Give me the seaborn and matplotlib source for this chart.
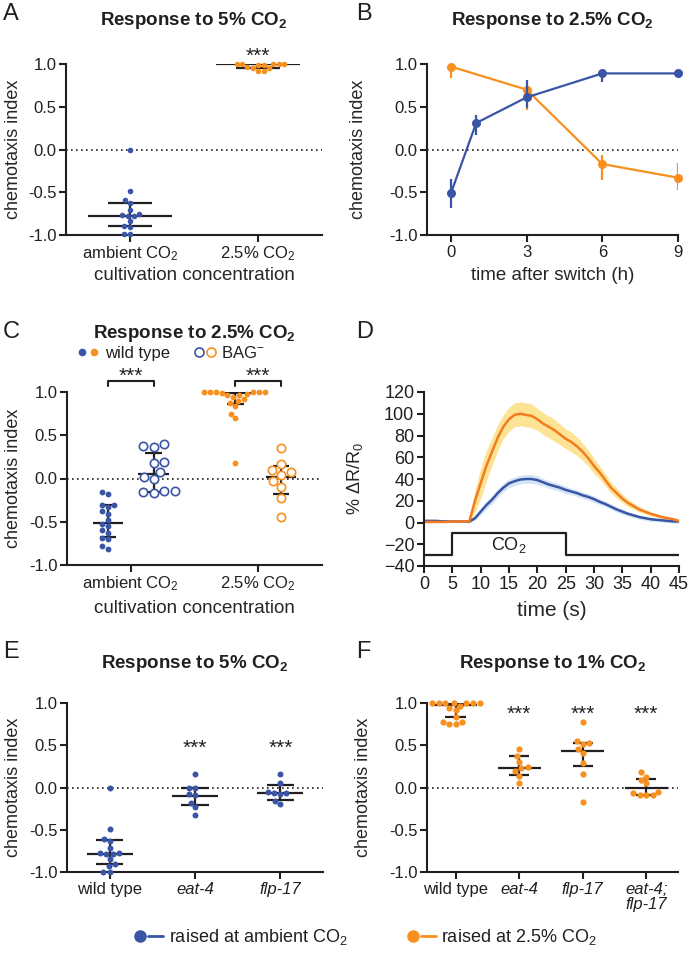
import numpy as np
import pandas as pd
import seaborn as sns
import matplotlib.pyplot as plt
from matplotlib.lines import Line2D
from matplotlib.legend_handler import HandlerTuple

sns.set_style('ticks')
plt.rcParams['font.family'] = ['Liberation Sans', 'DejaVu Sans']
plt.rcParams['mathtext.fontset'] = 'custom'
plt.rcParams['mathtext.rm'] = 'Liberation Sans'
plt.rcParams['mathtext.it'] = 'Liberation Sans:italic'
plt.rcParams['mathtext.bf'] = 'Liberation Sans:bold'
plt.rcParams['text.color'] = '#231f20'

BLUE = '#3a55a5'
ORANGE = '#f7901e'
DARK = '#231f20'

# ---- panel A: response to 5% CO2 (chemotaxis index per assay)
a_cats = ['ambient CO$_2$', '2.5% CO$_2$']
a_ambient = [0.0, -0.48, -0.59, -0.62, -0.71, -0.76, -0.77, -0.78, -0.78, -0.84, -0.90, -0.91, -0.99, -0.99]
a_high = [1.0, 1.0, 1.0, 1.0, 0.99, 0.99, 0.96, 0.95, 0.95, 0.92, 0.92, 1.0]
a_med = [-0.78, 1.0]
a_q1 = [-0.90, 0.95]
a_q3 = [-0.62, 1.0]

# ---- panel B: time course after switch
b_time_amb = [0, 1, 3, 6, 9]
b_amb_mean = [-0.51, 0.31, 0.61, 0.89, 0.89]
b_amb_lo = [-0.69, 0.17, 0.49, 0.79, 0.86]
b_amb_hi = [-0.34, 0.40, 0.81, 0.93, 0.91]
b_time_high = [0, 3, 6, 9]
b_high_mean = [0.97, 0.70, -0.17, -0.33]
b_high_lo = [0.84, 0.46, -0.36, -0.47]
b_high_hi = [1.0, 0.75, -0.06, -0.16]

# ---- panel C: wild type vs BAG-ablated
c_wt_amb = [-0.16, -0.18, -0.31, -0.31, -0.33, -0.38, -0.41, -0.48, -0.53, -0.55, -0.60, -0.63, -0.69, -0.70, -0.78, -0.81]
c_bag_amb = [0.40, 0.37, 0.36, 0.19, 0.18, 0.08, 0.02, -0.01, -0.15, -0.15, -0.16, -0.17]
c_wt_high = [1.0, 1.0, 1.0, 1.0, 1.0, 1.0, 0.99, 0.98, 0.97, 0.96, 0.94, 0.92, 0.90, 0.87, 0.84,
             0.75, 0.70, 0.18]
c_bag_high = [0.35, 0.17, 0.10, 0.08, 0.04, -0.03, -0.10, -0.23, -0.44]
c_med = [-0.51, 0.05, 0.99, 0.02]
c_q1 = [-0.68, -0.16, 0.86, -0.18]
c_q3 = [-0.31, 0.30, 1.0, 0.14]

# ---- panel D: BAG calcium imaging
d_time = [0, 1, 2, 3, 4, 5, 6, 7, 8, 9, 10, 11, 12, 13, 14, 15, 16, 17, 18, 19, 20, 21, 22,
          23, 24, 25, 26, 27, 28, 29, 30, 31, 32, 33, 34, 35, 36, 37, 38, 39, 40, 41, 42, 43, 44, 45]
d_high_mean = [0.5, 0.5, 0.5, 0.5, 0.5, 1, 1, 1, 1, 20, 36, 52, 65, 78, 88, 95, 99, 100, 99, 98, 95, 91,
               88, 85, 81, 77, 74, 70, 65, 59, 52, 46, 39, 32, 27, 22, 18, 15, 12, 10, 8, 6.5, 5, 4, 3, 1.5]
d_high_sem = [0.5, 0.5, 0.5, 0.5, 0.5, 0.5, 0.5, 0.5, 2, 10, 14, 14, 13, 12, 11, 11, 11, 11, 11, 11, 10, 10,
              10, 10, 9.5, 9, 9, 8.5, 8, 7.5, 7, 6, 5.5, 5, 4.5, 4, 3.5, 3, 2.5, 2, 2, 1.5, 1.5, 1, 1, 1]
d_amb_mean = [1.5, 1.5, 1.5, 1.2, 1, 1, 1, 1, 0.8, 4, 10, 16, 21, 27, 32, 36, 38, 39.5, 40, 40, 39, 37,
              35, 33.5, 32, 30, 28.5, 27, 25, 23.5, 21.5, 19, 17, 14.5, 12, 10, 8, 6.5, 5, 4, 3, 2.5, 2, 1.5, 1, 1]
d_amb_sem = [0.5, 0.5, 0.5, 0.5, 0.5, 0.5, 0.5, 0.5, 1, 2, 3, 3.5, 4, 4, 4, 4, 4, 4, 4, 4, 4, 3.5,
             3.5, 3.5, 3.5, 3.5, 3, 3, 3, 3, 3, 2.5, 2.5, 2.5, 2.5, 2.5, 2, 2, 2, 2, 2, 1.5, 1.5, 1.5, 1.5, 1.5]
stim_time = [0, 5, 25, 45]
stim_level = [-30, -10, -30, -30]

# ---- panel E: response to 5% CO2, mutants raised at ambient
e_cats = ['wild type', 'eat-4', 'flp-17']
e_wt = [0.0, -0.49, -0.61, -0.63, -0.72, -0.77, -0.78, -0.79, -0.79, -0.85, -0.91, -0.93, -1.0, -1.0]
e_eat4 = [0.16, 0.0, 0.0, -0.08, -0.09, -0.18, -0.23, -0.33]
e_flp17 = [0.16, 0.05, -0.05, -0.06, -0.06, -0.08, -0.16, -0.20]
e_med = [-0.79, -0.10, -0.065]
e_q1 = [-0.90, -0.21, -0.15]
e_q3 = [-0.62, 0.0, 0.03]

# ---- panel F: response to 1% CO2, mutants raised at 2.5%
f_cats = ['wild type', 'eat-4', 'flp-17', 'eat-4;\nflp-17']
f_wt = [1.0, 1.0, 1.0, 1.0, 1.0, 1.0, 1.0, 0.97, 0.94, 0.92, 0.83, 0.78, 0.77, 0.75, 0.75]
f_eat4 = [0.46, 0.37, 0.30, 0.24, 0.23, 0.20, 0.14, 0.05]
f_flp17 = [0.78, 0.55, 0.53, 0.52, 0.46, 0.41, 0.29, 0.16, -0.17]
f_double = [0.18, 0.13, 0.09, 0.05, -0.05, -0.07, -0.09, -0.09, -0.09]
f_med = [0.98, 0.235, 0.43, 0.0]
f_q1 = [0.83, 0.15, 0.26, -0.085]
f_q3 = [1.0, 0.37, 0.53, 0.10]


def swarm(ax, pos, vals, color, size=4.0, hollow=False):
    sns.swarmplot(x=np.full(len(vals), pos, dtype=float), y=vals, native_scale=True,
                  color=color, size=size, linewidth=0, ax=ax, zorder=3, clip_on=False)
    pts = ax.collections[-1]
    if hollow:
        pts.set_facecolor('white')
        pts.set_edgecolor(color)
        pts.set_linewidth(1.2)


def med_iqr(ax, pos, med, lo, hi, mw, ww):
    kw = dict(color=DARK, lw=1.6, zorder=2)
    ax.hlines(med, pos - mw, pos + mw, **kw)
    ax.hlines([lo, hi], pos - ww, pos + ww, **kw)
    ax.vlines(pos, lo, hi, **kw)


def style(ax, ylim=(-1, 1), yticks=(-1.0, -0.5, 0.0, 0.5, 1.0), zero=True, size=12):
    sns.despine(ax=ax)
    for s in ['left', 'bottom']:
        ax.spines[s].set_linewidth(1.5)
        ax.spines[s].set_color(DARK)
    ax.set_ylim(*ylim)
    ax.set_yticks(yticks)
    if zero:
        ax.set_yticklabels([f'{v:.1f}' for v in yticks])
        ax.axhline(0, color=DARK, lw=1.2, ls=(0, (1, 2)), zorder=1)
    ax.tick_params(length=5, width=1.5, labelsize=size, pad=2, color=DARK, labelcolor=DARK)
    ax.set_ylabel('chemotaxis index', fontsize=13)


def title(ax, text, y):
    ax.text(0.5, y, text, transform=ax.transAxes, ha='center', va='baseline',
            fontsize=13.5, fontweight='bold')


def stars(ax, x, y):
    ax.text(x, y, '***', ha='center', va='baseline', fontsize=15)


fig = plt.figure(figsize=(6.91, 9.6), dpi=100)
W, H = 691, 960


def axes_px(l, r, top, bottom):
    return fig.add_axes([l / W, (H - bottom) / H, (r - l) / W, (bottom - top) / H])


# ---------------- A
ax = axes_px(66, 322, 64, 235)
swarm(ax, 0, a_ambient, BLUE)
swarm(ax, 1, a_high, ORANGE)
for i in range(2):
    med_iqr(ax, i, a_med[i], a_q1[i], a_q3[i], 0.33, 0.17)
style(ax)
ax.set_xlim(-0.5, 1.5)
ax.set_xticks([0, 1])
ax.set_xticklabels(a_cats)
stars(ax, 1, 1.03)
ax.set_xlabel('cultivation concentration', fontsize=13.5)
ax.xaxis.set_label_coords(0.5, -0.19)
ax.yaxis.set_label_coords(-0.17, 0.5)
title(ax, 'Response to 5% CO$_\\mathbf{2}$', 1.228)

# ---------------- B
ax = axes_px(427, 678, 64, 235)
sns.lineplot(x=b_time_high, y=b_high_mean, color=ORANGE, marker='o', markersize=6.5,
             markeredgewidth=0, lw=1.6, ax=ax, errorbar=None, clip_on=False)
ax.vlines(b_time_high, b_high_lo, b_high_hi, color=ORANGE, lw=1.6)
sns.lineplot(x=b_time_amb, y=b_amb_mean, color=BLUE, marker='o', markersize=6.5,
             markeredgewidth=0, lw=1.6, ax=ax, errorbar=None, clip_on=False)
ax.vlines(b_time_amb, b_amb_lo, b_amb_hi, color=BLUE, lw=1.6)
style(ax)
ax.set_xlim(-0.95, 9)
ax.set_xticks([0, 3, 6, 9])
ax.set_xlabel('time after switch (h)', fontsize=13.5)
ax.xaxis.set_label_coords(0.5, -0.19)
ax.yaxis.set_label_coords(-0.24, 0.5)
title(ax, 'Response to 2.5% CO$_\\mathbf{2}$', 1.228)

# ---------------- C
ax = axes_px(67, 322, 392, 565)
off = 0.18
swarm(ax, -off, c_wt_amb, BLUE, size=4.2)
swarm(ax, off, c_bag_amb, BLUE, size=6.0, hollow=True)
swarm(ax, 1 - off, c_wt_high, ORANGE, size=4.2)
swarm(ax, 1 + off, c_bag_high, ORANGE, size=6.0, hollow=True)
for i, pos in enumerate([-off, off, 1 - off, 1 + off]):
    med_iqr(ax, pos, c_med[i], c_q1[i], c_q3[i], 0.12, 0.065)
style(ax)
ax.set_xlim(-0.5, 1.5)
ax.set_xticks([0, 1])
ax.set_xticklabels(a_cats)
for c in [0, 1]:
    ax.plot([c - off, c - off, c + off, c + off], [1.07, 1.13, 1.13, 1.07], color=DARK,
            lw=1.5, clip_on=False)
    stars(ax, c, 1.115)
ax.set_xlabel('cultivation concentration', fontsize=13.5)
ax.xaxis.set_label_coords(0.5, -0.2)
ax.yaxis.set_label_coords(-0.175, 0.5)
title(ax, 'Response to 2.5% CO$_\\mathbf{2}$', 1.31)
mk = dict(ls='', marker='o')
wt_h = (Line2D([], [], color=BLUE, markersize=5.5, markeredgewidth=0, **mk),
        Line2D([], [], color=ORANGE, markersize=5.5, markeredgewidth=0, **mk))
bag_h = (Line2D([], [], markerfacecolor='white', markeredgecolor=BLUE, markersize=6.5, markeredgewidth=1.2, **mk),
         Line2D([], [], markerfacecolor='white', markeredgecolor=ORANGE, markersize=6.5, markeredgewidth=1.2, **mk))
ax.legend([wt_h, bag_h], ['wild type', 'BAG$^{-}$'], handler_map={tuple: HandlerTuple(ndivide=None, pad=0.2)},
          ncol=2, frameon=False, loc='center', bbox_to_anchor=(0.41, 1.225), fontsize=12,
          handlelength=1.2, handletextpad=0.4, columnspacing=1.5)

# ---------------- D
ax = axes_px(424, 679, 392, 566)
d_high_mean = np.array(d_high_mean)
d_amb_mean = np.array(d_amb_mean)
ax.fill_between(d_time, d_high_mean - np.array(d_high_sem), d_high_mean + np.array(d_high_sem),
                color='#fde494', lw=0)
ax.fill_between(d_time, d_amb_mean - np.array(d_amb_sem), d_amb_mean + np.array(d_amb_sem),
                color='#d4e5f6', lw=0)
sns.lineplot(x=d_time, y=d_amb_mean, color=BLUE, lw=1.8, ax=ax, errorbar=None)
sns.lineplot(x=d_time, y=d_high_mean, color='#f47b20', lw=1.8, ax=ax, errorbar=None)
ax.plot(stim_time, stim_level, drawstyle='steps-post', color=DARK, lw=1.6)
ax.text(15, -21, 'CO$_2$', ha='center', va='center', fontsize=13)
style(ax, ylim=(-40, 120), yticks=range(-40, 121, 20), zero=False, size=13)
ax.set_xlim(0, 45)
ax.set_xticks(range(0, 46, 5))
ax.set_ylabel('% ΔR/R$_0$', fontsize=13)
ax.set_xlabel('time (s)', fontsize=15)
ax.xaxis.set_label_coords(0.5, -0.2)
ax.yaxis.set_label_coords(-0.23, 0.5)

# ---------------- E
ax = axes_px(67, 323, 703, 872)
for i, vals in enumerate([e_wt, e_eat4, e_flp17]):
    swarm(ax, i, vals, BLUE, size=4.3)
    med_iqr(ax, i, e_med[i], e_q1[i], e_q3[i], 0.27, 0.16)
style(ax)
ax.set_xlim(-0.5, 2.5)
ax.set_xticks([0, 1, 2])
ax.set_xticklabels(e_cats)
for i in [1, 2]:
    ax.get_xticklabels()[i].set_fontstyle('italic')
    stars(ax, i, 0.395)
ax.set_xlabel('')
ax.yaxis.set_label_coords(-0.176, 0.5)
title(ax, 'Response to 5% CO$_\\mathbf{2}$', 1.207)

# ---------------- F
ax = axes_px(427, 678, 703, 872)
for i, vals in enumerate([f_wt, f_eat4, f_flp17, f_double]):
    swarm(ax, i, vals, ORANGE, size=4.5)
    med_iqr(ax, i, f_med[i], f_q1[i], f_q3[i], 0.34, 0.16)
style(ax)
ax.set_xlim(-0.45, 3.5)
ax.set_xticks([0, 1, 2, 3])
ax.set_xticklabels(f_cats, linespacing=1.0)
for i in [1, 2, 3]:
    ax.get_xticklabels()[i].set_fontstyle('italic')
    stars(ax, i, 0.795)
ax.set_xlabel('')
ax.yaxis.set_label_coords(-0.22, 0.5)
title(ax, 'Response to 1% CO$_\\mathbf{2}$', 1.207)

# panel letters
for letter, x, y in [('A', 3, 3), ('B', 356, 3), ('C', 3, 321), ('D', 356, 321), ('E', 3, 641), ('F', 356, 641)]:
    fig.text(x / W, 1 - y / H, letter, fontsize=17, va='top', ha='left')

# shared legend
amb_h = (Line2D([], [], color=BLUE, marker='o', ls='', markersize=8),
         Line2D([], [], color=BLUE, lw=2))
high_h = (Line2D([], [], color=ORANGE, marker='o', ls='', markersize=8),
          Line2D([], [], color=ORANGE, lw=2))
fig.legend([amb_h, high_h], ['raised at ambient CO$_2$', 'raised at 2.5% CO$_2$'],
           handler_map={tuple: HandlerTuple(ndivide=None, pad=0)}, ncol=2, frameon=False,
           loc='center', bbox_to_anchor=(0.528, 0.024), fontsize=13, handlelength=1.7,
           handletextpad=0.3, columnspacing=3.2)

fig.savefig('out.png', dpi=100)
